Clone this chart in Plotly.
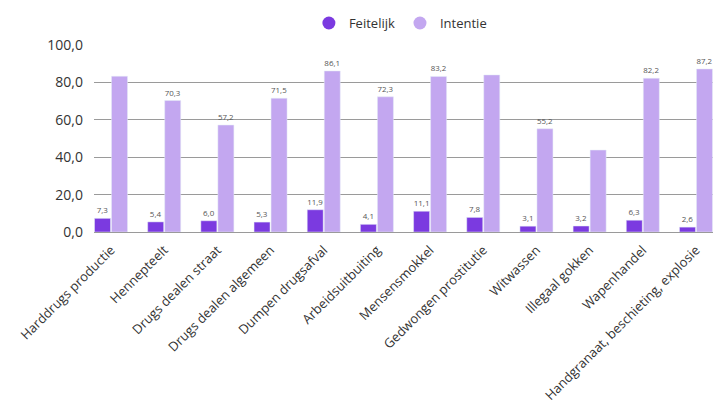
import plotly.graph_objects as go

categories = ["Harddrugs productie", "Hennepteelt", "Drugs dealen straat", "Drugs dealen algemeen",
              "Dumpen drugsafval", "Arbeidsuitbuiting", "Mensensmokkel", "Gedwongen prostitutie",
              "Witwassen", "Illegaal gokken", "Wapenhandel", "Handgranaat, beschieting, explosie"]
feitelijk = [7.3, 5.4, 6.0, 5.3, 11.9, 4.1, 11.1, 7.8, 3.1, 3.2, 6.3, 2.6]
intentie = [83.3, 70.3, 57.2, 71.5, 86.1, 72.3, 83.2, 84.0, 55.2, 43.8, 82.2, 87.2]
intentie_label_shown = [False, True, True, True, True, True, True, False, True, False, True, True]

C_FEIT = "#7B3AE0"
C_INT = "#C3A7F0"
FONT = "Open Sans, Lato, sans-serif"

def fmt(v):
    return f"{v:.1f}".replace(".", ",")

fig = go.Figure()
fig.add_trace(go.Bar(x=categories, y=feitelijk, name="Feitelijk", marker_color=C_FEIT,
                     text=[fmt(v) for v in feitelijk], textposition="outside",
                     textfont=dict(size=8, color="#555"), cliponaxis=False, showlegend=False))
fig.add_trace(go.Bar(x=categories, y=intentie, name="Intentie", marker_color=C_INT,
                     text=[fmt(v) if s else "" for v, s in zip(intentie, intentie_label_shown)],
                     textposition="outside", textfont=dict(size=8, color="#555"),
                     cliponaxis=False, showlegend=False))
# legend entries with round markers
for name, col in [("Feitelijk", C_FEIT), ("Intentie", C_INT)]:
    fig.add_trace(go.Scatter(x=[None], y=[None], mode="markers", name=name,
                             marker=dict(symbol="circle", size=13, color=col)))

fig.update_layout(
    width=721, height=403,
    margin=dict(l=94, r=8, t=45, b=171),
    paper_bgcolor="white", plot_bgcolor="white",
    separators=",.",
    barmode="group", bargap=0.36, bargroupgap=0.06,
    font=dict(family=FONT, size=13, color="#333"),
    legend=dict(orientation="h", x=0.495, xanchor="center", y=0.98, yanchor="top",
                yref="container", font=dict(size=13, color="#333"), itemwidth=30),
    showlegend=True,
)
fig.update_xaxes(range=[-0.32, 11.32], tickangle=-45, showgrid=False, showline=False,
                 automargin=False, ticks="", ticklabelstandoff=7,
                 tickfont=dict(size=13, color="#333"))
fig.update_yaxes(range=[0, 100], dtick=20, tickformat=".1f", showgrid=True,
                 automargin=False,
                 gridcolor="#9a9a9a", gridwidth=1, zeroline=True, zerolinecolor="#9a9a9a",
                 zerolinewidth=1, ticks="", ticklabelstandoff=10,
                 tickfont=dict(size=14, color="#333"))

fig.write_html("out.html")
